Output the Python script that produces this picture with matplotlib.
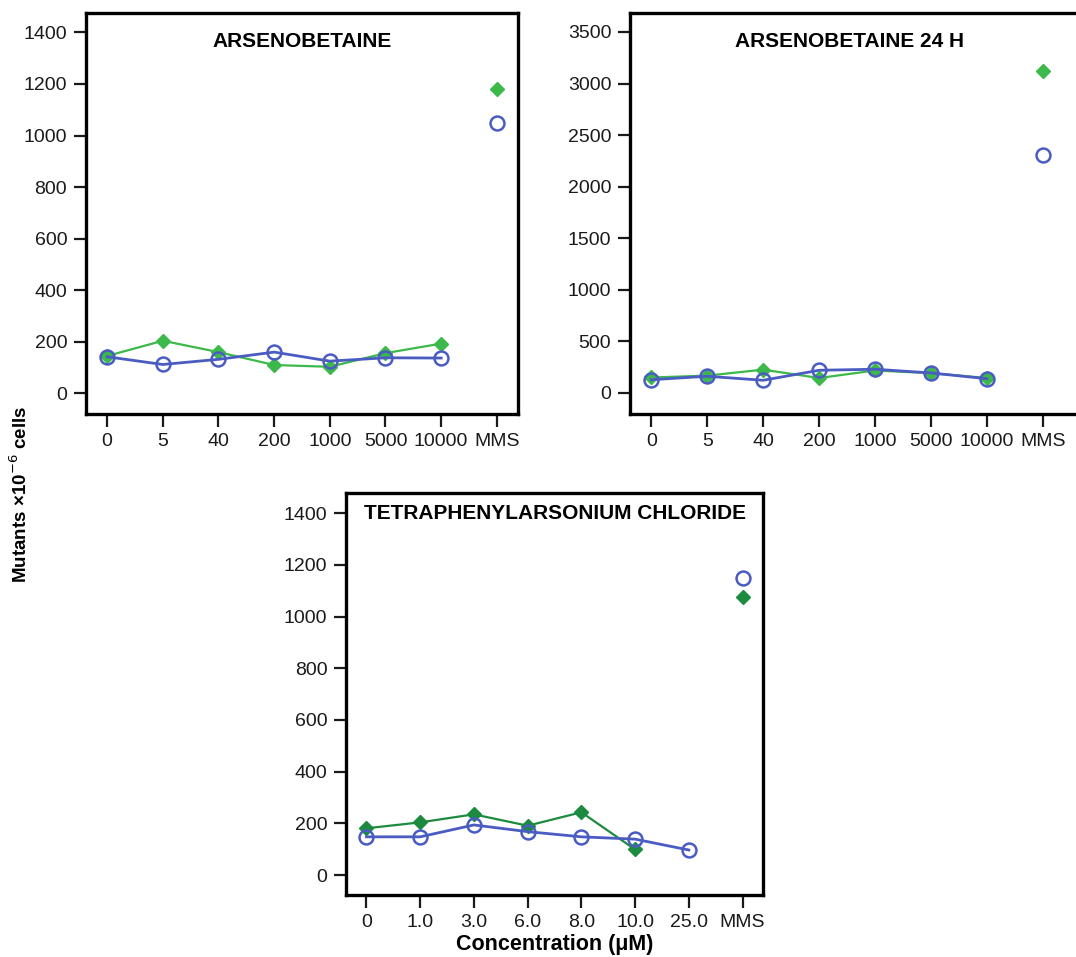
import matplotlib
matplotlib.use("Agg")
import matplotlib.pyplot as plt
import numpy as np

plt.rcParams['font.family'] = ['Liberation Sans', 'DejaVu Sans']

# data
ab_labels = ['0', '5', '40', '200', '1000', '5000', '10000', 'MMS']
tpac_labels = ['0', '1.0', '3.0', '6.0', '8.0', '10.0', '25.0', 'MMS']

ab_green = [145, 204, 160, 110, 103, 156, 193]
ab_blue = [142, 112, 132, 160, 125, 138, 137]
ab_mms_green = 1179
ab_mms_blue = 1047

ab24_green = [150, 168, 226, 145, 218, 192, 145]
ab24_blue = [128, 162, 123, 220, 230, 194, 138]
ab24_mms_green = 3119
ab24_mms_blue = 2304

tpac_green = [181, 204, 235, 191, 243, 99]
tpac_blue = [148, 148, 194, 168, 148, 139, 97]
tpac_mms_green = 1077
tpac_mms_blue = 1148

green = '#3cb94a'
dgreen = '#1c8b3f'
blue = '#4a5cc2'

fig = plt.figure(figsize=(10.76, 9.57), dpi=100)


def panel(rect, labels, g, b, mg, mb, gcol, ylim, yticks, title, tx, ty, xmax=7.38):
    ax = fig.add_axes(rect)
    xg = np.arange(len(g))
    xb = np.arange(len(b))
    ax.plot(xg, g, color=gcol, lw=1.6, marker='D', ms=7, mfc=gcol, mec=gcol, zorder=2)
    ax.plot(xb, b, color=blue, lw=2.0, marker='o', ms=10, mfc='none', mec=blue, mew=1.8, zorder=3)
    ax.plot([7], [mg], ls='none', marker='D', ms=7.5, color=gcol)
    ax.plot([7], [mb], ls='none', marker='o', ms=10, mfc='none', mec=blue, mew=1.8)
    ax.set_xlim(-0.38, xmax)
    ax.set_ylim(*ylim)
    ax.set_xticks(range(8))
    ax.set_xticklabels(labels)
    ax.set_yticks(yticks)
    ax.tick_params(direction='out', length=9, width=1.6, labelsize=14, pad=4.5, colors='#1a1a1a')
    for s in ax.spines.values():
        s.set_linewidth(2.4)
    ax.text(tx, ty, title, transform=ax.transAxes, ha='center', va='center',
            fontsize=15, fontweight='bold')
    return ax


panel([0.0799, 0.5674, 0.4015, 0.419], ab_labels, ab_green, ab_blue,
      ab_mms_green, ab_mms_blue, green, (-80, 1475), range(0, 1401, 200),
      'ARSENOBETAINE', 0.5, 0.928)

panel([0.5855, 0.5674, 0.418, 0.419], ab_labels, ab24_green, ab24_blue,
      ab24_mms_green, ab24_mms_blue, green, (-204, 3684), range(0, 3501, 500),
      'ARSENOBETAINE 24 H', 0.489, 0.928, xmax=7.66)

ax3 = panel([0.3216, 0.0648, 0.3875, 0.420], tpac_labels, tpac_green, tpac_blue,
            tpac_mms_green, tpac_mms_blue, dgreen, (-77, 1478), range(0, 1401, 200),
            'TETRAPHENYLARSONIUM CHLORIDE', 0.5, 0.95)
ax3.set_xlabel('Concentration (\u03bcM)', fontsize=15.5, fontweight='bold', labelpad=2)

fig.text(0.019, 0.483, 'Mutants \u00d710$^{-6}$ cells', rotation=90, ha='center', va='center',
         fontsize=13.5, fontweight='bold')

fig.savefig('out.png', dpi=100)
